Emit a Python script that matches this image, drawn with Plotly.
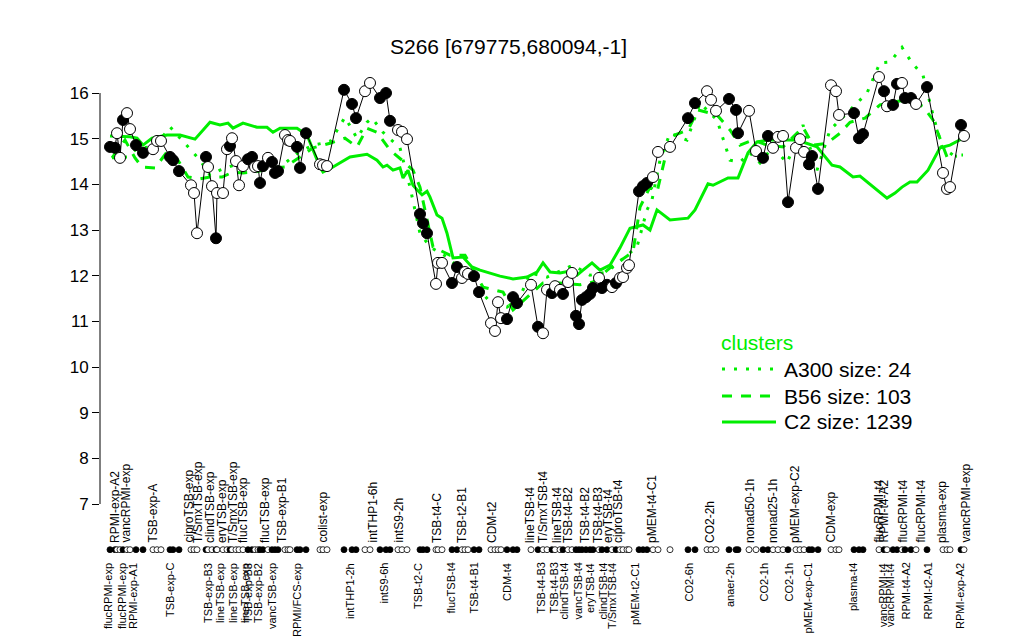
import plotly.graph_objects as go

# ---- sample data (position along the sample ordering, expression value, marker fill) ----
pos = [10, 15, 17, 20, 23, 27, 30, 36, 43, 53, 57, 61, 70, 73, 79, 91, 94, 97, 106, 108,
       112, 116, 117, 123, 127, 130, 132, 136, 139, 143, 148, 152, 155, 158, 160, 163, 168, 172, 175, 178,
       185, 188, 190, 197, 200, 206, 220, 223, 227, 244, 252, 256, 265, 270, 280, 286, 290, 298, 302, 307,
       320, 323, 327, 336, 338, 342, 352, 357, 362, 365, 368, 374, 379, 391, 395, 398, 401, 407, 413, 417,
       431, 438, 443, 447, 452, 455, 460, 463, 468, 472, 476, 479, 482, 486, 490, 493, 499, 502, 507, 512,
       516, 520, 523, 527, 529, 539, 543, 547, 553, 558, 570, 588, 595, 607, 611, 616, 629, 636, 638, 649,
       656, 663, 668, 673, 678, 683, 688, 696, 700, 704, 709, 712, 718, 731, 736, 739, 754, 759, 763, 779,
       784, 787, 793, 797, 802, 805, 811, 816, 827, 843, 847, 850, 861, 864]
vals = [14.82, 14.80, 15.12, 14.58, 15.41, 15.56, 15.21, 14.86, 14.69, 14.77, 14.95, 14.95, 14.60, 14.53, 14.29, 13.98, 13.81, 12.93, 14.60, 14.38,
        13.96, 12.82, 13.81, 13.81, 14.77, 14.84, 15.01, 14.51, 13.98, 14.40, 14.55, 14.60, 14.38, 14.40, 14.03, 14.40, 14.58, 14.49, 14.25, 14.29,
        15.08, 14.97, 14.95, 14.82, 14.36, 15.12, 14.44, 14.42, 14.40, 16.07, 15.76, 15.45, 16.04, 16.22, 15.89, 16.00, 15.39, 15.19, 15.15, 14.99,
        13.35, 13.15, 12.93, 11.82, 12.28, 12.28, 11.84, 12.19, 11.95, 12.08, 12.04, 11.99, 11.64, 10.96, 10.79, 11.42, 11.07, 11.05, 11.53, 11.40,
        11.80, 10.88, 10.74, 11.69, 11.62, 11.77, 11.69, 11.60, 11.86, 12.06, 11.12, 10.94, 11.47, 11.53, 11.60, 11.73, 11.95, 11.73, 11.80, 11.75,
        11.84, 11.95, 11.97, 12.17, 12.23, 13.85, 13.96, 14.03, 14.16, 14.71, 14.82, 15.45, 15.78, 16.04, 15.85, 15.61, 15.87, 15.63, 15.12, 15.61,
        14.73, 14.58, 15.06, 14.80, 15.04, 15.06, 13.61, 14.80, 14.99, 14.71, 14.44, 14.62, 13.90, 16.17, 16.04, 15.52, 15.56, 15.01, 15.10, 16.35,
        16.04, 15.71, 15.74, 16.20, 16.22, 15.89, 15.89, 15.76, 16.13, 14.25, 13.90, 13.94, 15.30, 15.06]
filled = [1, 1, 0, 0, 1, 0, 0, 1, 1, 0, 0, 0, 1, 1, 1, 0, 0, 0, 1, 0,
          0, 1, 0, 0, 0, 1, 0, 0, 0, 0, 1, 1, 0, 0, 1, 1, 0, 1, 1, 1,
          0, 0, 0, 1, 1, 1, 0, 0, 0, 1, 1, 1, 0, 0, 1, 1, 1, 0, 0, 0,
          1, 1, 1, 0, 0, 0, 1, 1, 0, 0, 0, 1, 1, 0, 0, 0, 0, 1, 1, 1,
          0, 1, 0, 0, 1, 0, 0, 1, 0, 0, 1, 1, 1, 1, 1, 1, 0, 1, 1, 0,
          1, 0, 0, 0, 0, 1, 1, 1, 0, 0, 0, 1, 1, 0, 0, 0, 1, 1, 1, 0,
          0, 1, 1, 0, 0, 0, 1, 0, 0, 0, 1, 1, 1, 0, 0, 0, 1, 1, 1, 0,
          1, 0, 1, 1, 0, 1, 1, 0, 1, 0, 0, 0, 1, 0]

# ---- cluster mean profiles ----
c2_pos = [10, 30, 37, 43, 52, 67, 80, 95, 110, 120, 128, 133, 143, 157, 167, 173, 180, 197, 207, 220,
          223, 233, 250, 267, 277, 283, 287, 293, 300, 303, 308, 313, 317, 322, 327, 330, 337, 342, 347, 353,
          363, 372, 380, 390, 400, 413, 427, 437, 443, 450, 460, 470, 477, 483, 492, 500, 510, 520, 530, 543,
          550, 557, 570, 588, 595, 608, 613, 628, 638, 648, 657, 668, 683, 697, 717, 732, 740, 753, 760, 773,
          787, 795, 802, 810, 817, 828, 840, 850, 863]
c2_vals = [15.06, 15.04, 15.01, 14.86, 15.01, 15.08, 15.08, 14.99, 15.36, 15.30, 15.34, 15.23, 15.34, 15.25, 15.25, 15.14, 15.23, 15.23, 15.08, 14.38,
           14.27, 14.38, 14.60, 14.66, 14.53, 14.38, 14.42, 14.31, 14.36, 14.14, 14.31, 13.98, 13.88, 13.77, 13.85, 13.72, 13.33, 13.26, 12.93, 12.39,
           12.41, 12.19, 12.12, 12.06, 11.99, 11.93, 11.97, 12.08, 12.28, 12.08, 12.06, 12.10, 12.01, 12.12, 12.28, 12.12, 12.23, 12.61, 13.04, 13.11,
           13.00, 13.44, 13.22, 13.26, 13.44, 14.01, 13.98, 14.14, 14.14, 14.69, 14.93, 14.97, 14.97, 14.97, 14.82, 14.42, 14.38, 14.16, 14.18, 13.94,
           13.70, 13.81, 13.94, 14.05, 14.05, 14.31, 14.80, 14.86, 15.01]

b56_pos = [12, 25, 35, 42, 55, 67, 78, 88, 100, 110, 122, 133, 143, 155, 173, 185, 200, 213, 230, 245,
           257, 267, 277, 283, 290, 302, 313, 320, 333, 350, 365, 383, 403, 413, 427, 443, 460, 480, 493, 510,
           533, 540, 550, 557, 570, 588, 598, 617, 630, 640, 653, 667, 683, 703, 713, 727, 740, 750, 765, 780,
           793, 807, 823, 833, 847, 857]
b56_vals = [14.58, 14.97, 14.58, 14.38, 14.36, 14.71, 14.53, 14.16, 14.12, 14.16, 14.16, 14.27, 14.25, 14.27, 14.36, 14.38, 14.60, 14.80, 14.90, 15.01,
            14.82, 15.23, 15.14, 14.97, 14.75, 14.53, 14.31, 13.94, 12.63, 12.45, 12.45, 11.75, 11.64, 11.25, 11.53, 11.84, 11.84, 11.80, 11.86, 12.17,
            12.52, 13.50, 13.94, 13.83, 15.04, 15.19, 15.63, 15.52, 15.19, 14.86, 14.97, 14.86, 14.82, 15.25, 14.86, 14.90, 15.12, 15.36, 15.45, 15.74,
            15.80, 15.85, 15.71, 15.41, 14.60, 14.62]

a300_pos = [12, 27, 38, 55, 70, 80, 100, 110, 120, 140, 160, 180, 198, 213, 230, 245, 257, 267, 272, 283,
            300, 310, 320, 330, 347, 373, 380, 390, 407, 420, 430, 447, 473, 490, 507, 537, 547, 552, 560, 570,
            587, 600, 617, 630, 640, 650, 660, 673, 687, 703, 717, 730, 747, 767, 780, 790, 802, 812, 823, 833,
            842, 853, 863]
a300_vals = [14.58, 14.60, 14.80, 14.82, 15.26, 15.01, 14.53, 14.20, 14.31, 14.47, 14.36, 14.38, 14.69, 14.86, 14.93, 15.47, 15.01, 15.36, 15.45, 15.14,
             14.80, 13.94, 12.93, 12.63, 12.41, 11.90, 11.69, 11.42, 11.31, 11.53, 12.06, 11.97, 12.23, 12.01, 12.08, 12.63, 13.44, 13.66, 14.53, 15.12,
             14.97, 15.78, 15.41, 14.53, 14.49, 14.69, 14.47, 14.82, 14.47, 15.30, 14.31, 15.19, 15.56, 16.00, 16.66, 16.68, 17.00, 16.66, 16.39, 15.52,
             14.82, 14.64, 14.64]

# ---- sample labels ----
top_labels = ["RPMI-exp-A2", "vancRPMI-exp", "TSB-exp-A", "ciproTSB-exp", "T/SmxTSB-exp", "clindTSB-exp",
              "eryTSB-exp", "T/SmxTSB-exp", "flucTSB-exp", "flucTSB-exp", "TSB-exp-B1", "colist-exp",
              "intTHP1-6h", "intS9-2h", "TSB-t4-C", "TSB-t2-B1", "CDM-t2", "lineTSB-t4", "T/SmxTSB-t4",
              "lineTSB-t4", "TSB-t4-B2", "TSB-t4-B2", "TSB-t4-B3", "eryTSB-t4", "ciproTSB-t4", "pMEM-t4-C1",
              "CO2-2h", "nonad50-1h", "nonad25-1h", "pMEM-exp-C2", "CDM-exp", "flucRPMI-t4", "RPMI-t4-A2",
              "flucRPMI-t4", "flucRPMI-t4", "plasma-exp", "vancRPMI-exp"]
top_pos = [15, 25, 52, 88, 98, 110, 122, 133, 143, 165, 182, 222, 272, 298, 337, 362, 392, 430, 443,
           457, 468, 485, 498, 508, 518, 552, 610, 650, 673, 695, 730, 778, 783, 802, 820, 842, 865]
bottom_labels = ["flucRPMI-exp", "flucRPMI-exp", "RPMI-exp-A1", "TSB-exp-C", "TSB-exp-B3", "lineTSB-exp",
                 "lineTSB-exp", "lineTSB-exp", "TSB-exp-B3", "TSB-exp-B2", "vancTSB-exp", "RPMI/FCS-exp",
                 "intTHP1-2h", "intS9-6h", "TSB-t2-C", "flucTSB-t4", "TSB-t4-B1", "CDM-t4", "TSB-t4-B3",
                 "TSB-t4-B3", "clindTSB-t4", "vancTSB-t4", "eryTSB-t4", "clindTSB-t4", "T/SmxTSB-t4",
                 "pMEM-t2-C1", "CO2-6h", "anaer-2h", "CO2-1h", "CO2-1h", "pMEM-exp-C1", "plasma-t4",
                 "vancRPMI-t4", "vancRPMI-t4", "RPMI-t4-A2", "RPMI-t2-A1", "RPMI-exp-A2"]
bottom_pos = [8, 22, 33, 70, 108, 120, 133, 145, 148, 158, 172, 197, 250, 283, 318, 350, 373, 407, 440,
              453, 463, 477, 490, 502, 512, 535, 588, 630, 663, 688, 707, 753, 783, 790, 805, 827, 860]

y_ticks = [7, 8, 9, 10, 11, 12, 13, 14, 15, 16]
title = "S266 [679775,680094,-1]"
legend_title = "clusters"
legend_entries = ["A300 size: 24", "B56 size: 103", "C2 size: 1239"]

GREEN = "#00ee00"
FONT = "Liberation Sans"
W, H = 1024, 640
PAGE_OFF = 8                      # default body margin of the html page
PLOT_L, PLOT_T, PLOT_W, PLOT_H = 100, 30, 875, 570   # plot area in page pixels
ML = PLOT_L - PAGE_OFF
MT = PLOT_T - PAGE_OFF
MR = W - ML - PLOT_W
MB = H - MT - PLOT_H
YR = [4.898, 17.38]
XR = [0, 875]
RUG_Y = 6.0


def px_to_paper_x(px):
    return (px - PLOT_L) / PLOT_W


def py_to_paper_y(py):
    return (PLOT_T + PLOT_H - py) / PLOT_H


fig = go.Figure()

fig.add_trace(go.Scatter(x=c2_pos, y=c2_vals, mode="lines",
                         line=dict(color=GREEN, width=3), hoverinfo="skip", showlegend=False))
fig.add_trace(go.Scatter(x=b56_pos, y=b56_vals, mode="lines",
                         line=dict(color=GREEN, width=3, dash="10px,9px"), hoverinfo="skip", showlegend=False))
fig.add_trace(go.Scatter(x=a300_pos, y=a300_vals, mode="lines",
                         line=dict(color=GREEN, width=3, dash="3px,9px"), hoverinfo="skip", showlegend=False))

fills = ["black" if f else "white" for f in filled]
fig.add_trace(go.Scatter(x=pos, y=vals, mode="lines+markers",
                         line=dict(color="black", width=1),
                         marker=dict(size=11, color=fills, line=dict(color="black", width=1)),
                         showlegend=False))
fig.add_trace(go.Scatter(x=pos, y=[RUG_Y] * len(pos), mode="markers",
                         marker=dict(size=6, color=fills, line=dict(color="black", width=0.8)),
                         hoverinfo="skip", showlegend=False, cliponaxis=False))

annotations = []
for lab, p in zip(top_labels, top_pos):
    annotations.append(dict(x=p, xref="x", y=py_to_paper_y(545), yref="paper", text=lab,
                            textangle=-90, showarrow=False, xanchor="center", yanchor="bottom",
                            font=dict(family=FONT, size=12, color="black")))
for lab, p in zip(bottom_labels, bottom_pos):
    annotations.append(dict(x=p, xref="x", y=py_to_paper_y(561), yref="paper", text=lab,
                            textangle=-90, showarrow=False, xanchor="center", yanchor="top",
                            font=dict(family=FONT, size=11, color="black")))

annotations.append(dict(x=px_to_paper_x(508), xref="paper", y=py_to_paper_y(47), yref="paper", text=title,
                        showarrow=False, xanchor="center", yanchor="middle",
                        font=dict(family=FONT, size=21, color="black")))

annotations.append(dict(x=px_to_paper_x(719), xref="paper", y=py_to_paper_y(343), yref="paper",
                        text=legend_title, showarrow=False, xanchor="left", yanchor="middle",
                        font=dict(family=FONT, size=21, color=GREEN)))
leg_y = [369, 396, 422]
leg_dash = ["3px,9px", "10px,9px", "solid"]
shapes = []
for txt, yy, dsh in zip(legend_entries, leg_y, leg_dash):
    annotations.append(dict(x=px_to_paper_x(782), xref="paper", y=py_to_paper_y(yy), yref="paper",
                            text=txt, showarrow=False, xanchor="left", yanchor="middle",
                            font=dict(family=FONT, size=21, color="black")))
    shapes.append(dict(type="line", xref="paper", yref="paper",
                       x0=px_to_paper_x(722), x1=px_to_paper_x(776),
                       y0=py_to_paper_y(yy), y1=py_to_paper_y(yy),
                       line=dict(color=GREEN, width=3, dash=dsh)))

shapes.append(dict(type="line", xref="paper", yref="y", x0=0, x1=0, y0=y_ticks[0], y1=y_ticks[-1],
                   line=dict(color="black", width=1)))

fig.update_layout(
    width=W, height=H,
    margin=dict(l=ML, r=MR, t=MT, b=MB, pad=0),
    paper_bgcolor="white", plot_bgcolor="white",
    showlegend=False,
    xaxis=dict(range=XR, visible=False, fixedrange=True),
    yaxis=dict(range=YR, tickvals=y_ticks, ticktext=[str(t) for t in y_ticks],
               ticks="outside", ticklen=7, tickwidth=1, tickcolor="black",
               showgrid=False, zeroline=False, showline=False,
               tickfont=dict(family=FONT, size=17, color="black")),
    annotations=annotations,
    shapes=shapes,
    font=dict(family=FONT),
)

fig.write_html("out.html")
